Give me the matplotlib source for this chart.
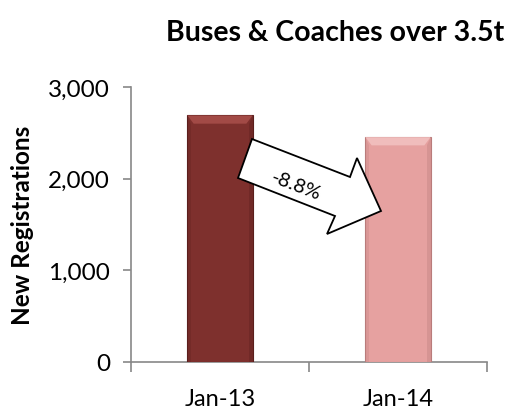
import matplotlib
matplotlib.use("Agg")
import matplotlib.pyplot as plt
from matplotlib.patches import Polygon
from matplotlib.ticker import FuncFormatter, FixedLocator
import numpy as np

categories = ["Jan-13", "Jan-14"]
values = [2690, 2453]
change_label = "-8.8%"
title = "Buses & Coaches over 3.5t"
ylabel = "New Registrations"
yticks = [0, 1000, 2000, 3000]

plt.rcParams['font.family'] = ['Lato', 'DejaVu Sans']

fig = plt.figure(figsize=(5.2, 4.1), dpi=100)
ax = fig.add_axes([131/520, 1-363/410, (487-131)/520, (363-88)/410])

colors = ["#7E302D", "#E6A1A0"]
edge_dark = ["#5A1E1C", "#B97C7B"]
top_light = ["#A24A46", "#F0BDBC"]
x = np.arange(len(categories))
width = 0.366
ax.bar(x, values, width=width, color=colors, edgecolor=edge_dark, linewidth=0.8, zorder=3)

# bevel effect on top of bars
for xi, v, tl, ed in zip(x, values, top_light, edge_dark):
    bev_h = 90
    bev_w = 0.035
    ax.add_patch(Polygon([[xi - width/2, v], [xi + width/2, v],
                          [xi + width/2 - bev_w, v - bev_h], [xi - width/2 + bev_w, v - bev_h]],
                         closed=True, facecolor=tl, edgecolor='none', zorder=4))
    ax.add_patch(Polygon([[xi + width/2, v], [xi + width/2, 0], [xi + width/2 - bev_w*0.6, 0],
                          [xi + width/2 - bev_w*0.6, v - bev_h]], closed=True,
                         facecolor=ed, alpha=0.35, edgecolor='none', zorder=4))
    ax.add_patch(Polygon([[xi - width/2, v], [xi - width/2, 0], [xi - width/2 + bev_w*0.6, 0],
                          [xi - width/2 + bev_w*0.6, v - bev_h]], closed=True,
                         facecolor=ed, alpha=0.25, edgecolor='none', zorder=4))

ax.set_xlim(-0.5, len(categories) - 0.5)
ax.set_ylim(0, 3000)
ax.yaxis.set_major_locator(FixedLocator(yticks))
ax.yaxis.set_major_formatter(FuncFormatter(lambda v, p: f"{int(v):,}"))
ax.set_xticks(x)
ax.set_xticklabels(categories)
ax.xaxis.set_minor_locator(FixedLocator([-0.5, 0.5, 1.5]))
ax.tick_params(axis='x', which='major', length=0, pad=19, labelsize=17)
ax.tick_params(axis='x', which='minor', length=7, color='#888888', width=1.2, direction='out')
ax.tick_params(axis='y', length=6, color='#888888', width=1.2, direction='out', labelsize=17.5, pad=9)

for s in ['top', 'right']:
    ax.spines[s].set_visible(False)
for s in ['left', 'bottom']:
    ax.spines[s].set_color('#888888')
    ax.spines[s].set_linewidth(1.2)

ax.set_ylabel(ylabel, fontsize=17.5, fontweight='bold', labelpad=10)
fig.text(335/520, 1-33/410, title, fontsize=20.5, fontweight='bold', ha='center', va='center')

# block arrow between bars (display pixel coords)
H = 410
pts = [(252, 140), (350, 178), (357, 159), (381, 212), (327, 235), (335, 217), (238, 179)]
pts_disp = [(px, H - py) for px, py in pts]
arrow = Polygon(pts_disp, closed=True, facecolor='white', edgecolor='black', linewidth=1.3,
                transform=None, zorder=10)
fig.patches.append(arrow)
fig.text(296/520, 1-186/410, change_label, fontsize=14.5, rotation=-21, ha='center', va='center', zorder=11)

fig.savefig("out.png", dpi=100)
